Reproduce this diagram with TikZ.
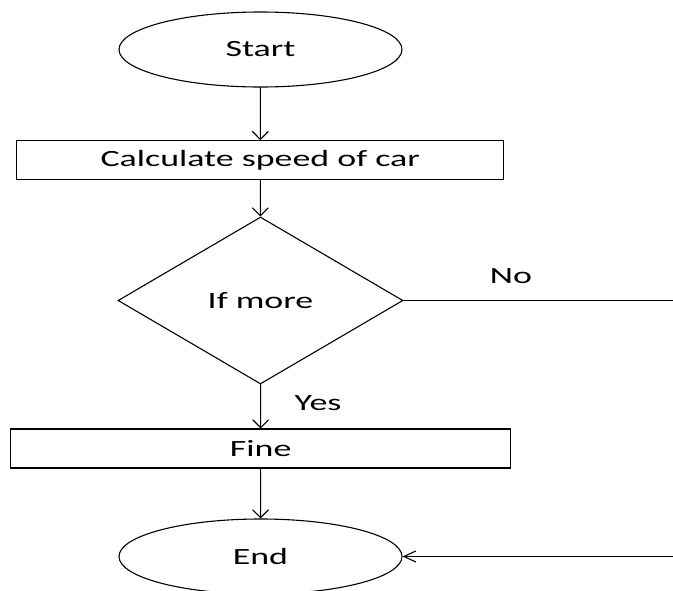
\documentclass[tikz,border=0pt]{standalone}
\usepackage{fontspec}
\setmainfont{Carlito}[FakeStretch=1.54]
\usetikzlibrary{shapes.geometric,arrows.meta,positioning}

\begin{document}
\begin{tikzpicture}[x=1pt,y=-1pt,line width=1.1pt,line cap=round,
    font=\fontsize{23.3}{28}\selectfont]
      \useasboundingbox (0,0) rectangle (673,590);

      \tikzstyle{myterm}=[draw, ellipse, minimum width=283pt, minimum height=75pt, inner sep=0pt];
      \tikzstyle{mybox}=[draw, rectangle, minimum height=39pt, inner sep=0pt];
      \tikzstyle{mychoice}=[draw, diamond, minimum width=285pt, minimum height=167pt, inner sep=0pt];
      \tikzstyle{mydown}=[-{Straight Barb[length=8pt,width=16pt]}];
      \tikzstyle{myleft}=[-{Straight Barb[length=12pt,width=11pt]}];

      \node[myterm] (start) at (260.5,49.5) {Start};
      \node[mybox, minimum width=487pt] (speed) at (260.3,160.2) {Calculate speed of car};
      \node[mychoice] (more) at (260.5,300.5) {If more};
      \node[mybox, minimum width=500pt] (fine) at (260.7,448.5) {Fine};
      \node[myterm] (stop) at (260.5,556.5) {End};

      \coordinate (NR) at (673,300.5);
      \coordinate (NE) at (673,556.5);
      \node (no) at (511,276) {No};
      \node (yes) at (318,403) {Yes};

      \draw[mydown] (start) -- (speed);
      \draw[mydown] (speed) -- (more);
      \draw[mydown] (more) -- (fine);
      \draw[mydown] (fine) -- (stop);
      \draw (more.east) -- (NR);
      \draw[myleft] (NE) -- (stop.east);
    \end{tikzpicture}
\end{document}
